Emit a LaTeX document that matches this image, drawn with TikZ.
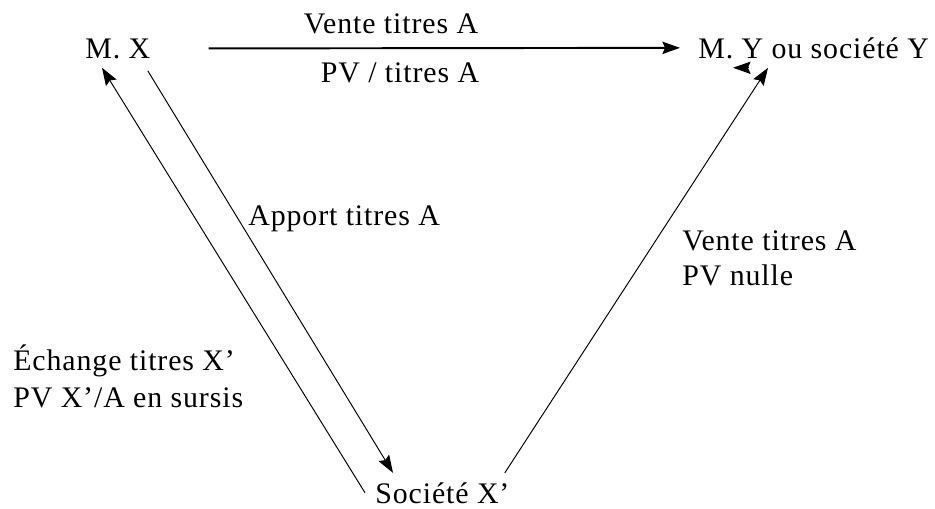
\documentclass[tikz,border=0pt]{standalone}
\usepackage{fontspec}
\setmainfont{Liberation Serif}[LetterSpace=3]
\usetikzlibrary{arrows.meta, calc}

\begin{document}
\begin{tikzpicture}[
    x=0.02cm, y=-0.02cm,
    every node/.style={font=\fontsize{17}{20}\selectfont, inner sep=0pt},
    flow/.style={-{Stealth[length=10pt, width=7pt, inset=1.5pt]}, line width=0.55pt},
    sale/.style={flow, line width=1.1pt},
]

% ================================================================
%   pixel grid: 935 x 508, origin top-left, y going down
%   M. X (top-left), M. Y (top-right), Societe X' (bottom)
% ================================================================
\useasboundingbox (0,0) rectangle (935,508);

% ---------------------------------------------------------------- parties
\node[anchor=base west] (mx)  at (85,58)   {M. X};
\node[anchor=base west] (my)  at (698,58)  {M. Y ou société Y};
\node[anchor=base west] (soc) at (375,503) {Société X’};

% ---------------------------------------------------------------- labels
\node[anchor=base] (venteTop) at (391,33) {Vente titres A};
\node[anchor=base] (pvTop)    at (400,82) {PV / titres A};

\node[anchor=base west] (apport) at (248,225) {Apport titres A};

\node[anchor=base west] (venteRight) at (682,250) {Vente titres A};
\node[anchor=base west] (pvRight)    at (682,285) {PV nulle};

\node[anchor=base west] (echange) at (13,370) {Échange titres X’};
\node[anchor=base west] (pvLeft)  at (13,407) {PV X’/A en sursis};

% ---------------------------------------------------------------- arrows
\draw[sale] ($(mx.east)+(58,0)$) -- ($(my.west)+(-18,0)$);

\draw[flow] ($(mx.south)+(30,12)$) -- ($(soc.north west)+(18,-9)$);
\draw[flow] ($(soc.west)+(-10,0)$) -- ($(mx.south west)+(17,9)$);
\draw[flow] ($(soc.north east)+(-5,-9)$) -- ($(my.south west)+(70,9)$);

% the small stray tip under M. Y
\draw[flow] ($(my.south west)+(50,9)$) -- ($(my.south west)+(35,9)$);

\end{tikzpicture}
\end{document}
